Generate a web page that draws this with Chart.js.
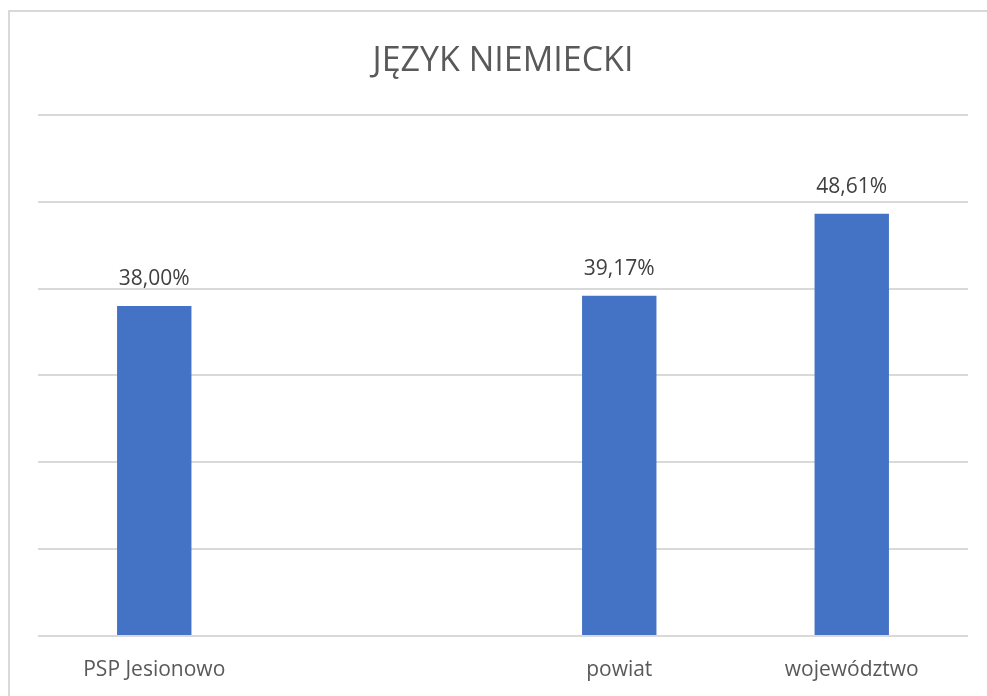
<!DOCTYPE html>
<html>
<head>
<meta charset="utf-8">
<script src="https://cdn.jsdelivr.net/npm/chart.js@4.4.0/dist/chart.umd.min.js"></script>
<style>
  html, body { margin: 0; padding: 0; background: #fff; }
  #frame {
    position: absolute; left: 8px; top: 10px; width: 990px; height: 700px;
    border: 2px solid #d9d9d9; box-sizing: border-box;
  }
  #wrap { position: absolute; left: 0; top: 0; width: 987px; height: 696px; }
</style>
</head>
<body>
<div id="frame"></div>
<div id="wrap"><canvas id="bar"></canvas></div>
<script>
// kategorie i wartości (w %)
var categories = ["PSP Jesionowo", "", "powiat", "województwo"];
var values = [38.00, null, 39.17, 48.61];
var chartTitle = "JĘZYK NIEMIECKI";

var FONT = "'Open Sans', 'Noto Sans', sans-serif";

// etykiety nad słupkami
var valueLabels = {
    id: 'valueLabels',
    afterDatasetsDraw: function (chart) {
        var ctx = chart.ctx;
        var meta = chart.getDatasetMeta(0);
        ctx.save();
        ctx.font = "21px " + FONT;
        ctx.fillStyle = "#404040";
        ctx.textAlign = "center";
        ctx.textBaseline = "alphabetic";
        for (var i = 0; i < meta.data.length; i++) {
            var v = values[i];
            if (v === null) continue;
            var el = meta.data[i];
            ctx.fillText(v.toFixed(2).replace('.', ',') + '%', el.x, el.y - 21);
        }
        ctx.restore();
    }
};

var ctx = document.getElementById("bar").getContext("2d");
new Chart(ctx, {
    type: 'bar',
    data: {
        labels: categories,
        datasets: [{
            data: values,
            backgroundColor: '#4472c4',
            borderWidth: 0,
            barPercentage: 0.64,
            categoryPercentage: 0.5
        }]
    },
    options: {
        responsive: true,
        maintainAspectRatio: false,
        animation: false,
        layout: { padding: { left: 38, right: 19, top: 0, bottom: 15 } },
        plugins: {
            legend: { display: false },
            tooltip: { enabled: false },
            title: {
                display: true,
                text: chartTitle,
                color: '#595959',
                font: { family: FONT, size: 34, weight: 'normal' },
                padding: { top: 41, bottom: 33 }
            }
        },
        scales: {
            x: {
                grid: { display: false },
                border: { display: false },
                ticks: {
                    color: '#595959',
                    font: { family: FONT, size: 21 },
                    padding: 13,
                    maxRotation: 0
                },
                afterFit: function (scale) { scale.height = 45; }
            },
            y: {
                min: 0,
                max: 60,
                ticks: { display: false, stepSize: 10 },
                border: { display: false },
                grid: { color: '#d9d9d9', lineWidth: 2, drawTicks: false }
            }
        }
    },
    plugins: [valueLabels]
});
</script>
</body>
</html>
